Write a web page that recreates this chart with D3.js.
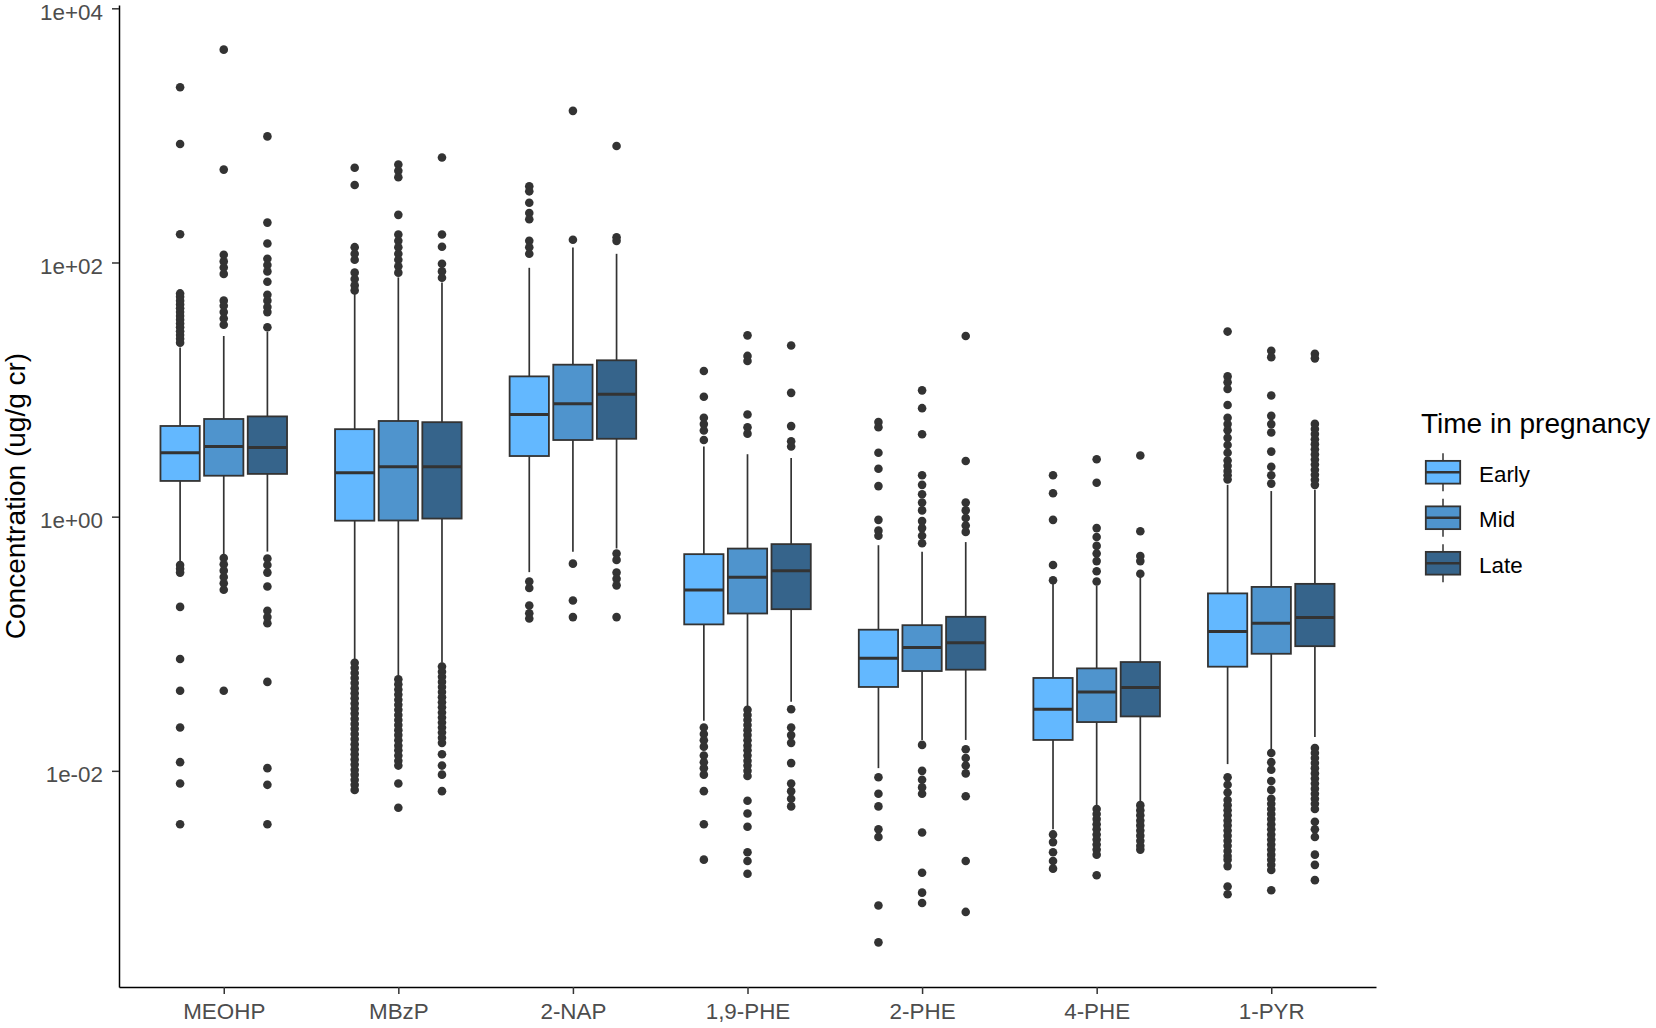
<!DOCTYPE html>
<html>
<head>
<meta charset="utf-8">
<script src="https://cdn.jsdelivr.net/npm/d3@7"></script>
<style>
  body { margin: 0; background: #ffffff; }
  svg { display: block; }
  text { font-family: "Liberation Sans", Arial, sans-serif; }
</style>
</head>
<body>
<svg id="chart" width="1656" height="1028"></svg>
<script>
// ---------------- DATA ----------------
const categories = ["MEOHP", "MBzP", "2-NAP", "1,9-PHE", "2-PHE", "4-PHE", "1-PYR"];
const periods = ["Early", "Mid", "Late"];
const periodColors = ["#63B8FF", "#4F94CD", "#36648B"];
const yTickValues = [1e-2, 1, 1e2, 1e4];
const yTickLabels = ["1e-02", "1e+00", "1e+02", "1e+04"];
const yTitle = "Concentration (ug/g cr)";
const legendTitle = "Time in pregnancy";

// box statistics (ug/g cr), one value per category
const earlyLow    = [0.436, 0.074, 0.366, 0.0248, 0.0105, 0.00347, 0.0113];
const earlyQ1     = [1.91, 0.93, 3.0, 0.142, 0.0457, 0.0175, 0.066];
const earlyMedian = [3.18, 2.22, 6.37, 0.265, 0.077, 0.0305, 0.125];
const earlyQ3     = [5.17, 4.88, 12.7, 0.507, 0.129, 0.0538, 0.249];
const earlyHigh   = [21.4, 57.3, 90.8, 3.57, 0.596, 0.308, 1.78];

const midLow    = [0.5, 0.0562, 0.53, 0.0312, 0.0175, 0.00537, 0.0142];
const midQ1     = [2.10, 0.933, 4.01, 0.173, 0.061, 0.0242, 0.0834];
const midMedian = [3.57, 2.47, 7.74, 0.334, 0.0935, 0.0417, 0.145];
const midQ3     = [5.87, 5.66, 15.7, 0.561, 0.140, 0.064, 0.28];
const midHigh   = [26.4, 76.4, 131.5, 3.10, 0.53, 0.287, 1.59];

const lateLow    = [0.531, 0.0708, 0.562, 0.035, 0.0175, 0.00562, 0.0185];
const lateQ1     = [2.17, 0.966, 4.1, 0.187, 0.0625, 0.0268, 0.0957];
const lateMedian = [3.5, 2.47, 9.2, 0.375, 0.1016, 0.0452, 0.161];
const lateQ3     = [6.15, 5.54, 17.0, 0.608, 0.163, 0.0718, 0.296];
const lateHigh   = [28.6, 69.7, 117, 2.90, 0.631, 0.334, 1.63];

// outliers, one list per category
const earlyOutliers = [
  [2390, 855, 167, 57.1, 53.7, 50.1, 46.8, 43.7, 40.7, 38.0, 35.5, 33.1, 30.9, 28.8, 26.9, 25.1, 23.4,
   0.417, 0.389, 0.363, 0.195, 0.0759, 0.0427, 0.0219, 0.0117, 0.00794, 0.0038],
  [557, 407, 132, 117, 105, 83.2, 74.1, 66.1, 60.3,
   0.0708, 0.0646, 0.0589, 0.0537, 0.049, 0.0447, 0.0407, 0.0372, 0.0339, 0.0309, 0.0282, 0.0257, 0.0234,
   0.0214, 0.0195, 0.0178, 0.0162, 0.0148, 0.0135, 0.0123, 0.0112, 0.0102, 0.00933, 0.00851, 0.00776, 0.00708],
  [398, 363, 295, 245, 219, 148, 132, 117, 0.309, 0.275, 0.2, 0.174, 0.158],
  [14.0, 8.79, 6.0, 5.35, 4.76, 4.01, 0.0219, 0.0195, 0.0174, 0.0155, 0.0132, 0.0117, 0.0105, 0.00933, 0.00692, 0.0038, 0.002],
  [5.56, 5.05, 3.18, 2.38, 1.74, 0.944, 0.776, 0.708, 0.00891, 0.00661, 0.00525, 0.00347, 0.00302, 0.000871, 0.000447],
  [2.12, 1.53, 0.944, 0.416, 0.316, 0.00316, 0.00275, 0.00229, 0.00195, 0.0017],
  [28.6, 12.7, 11.4, 10.1, 7.57, 6.01, 5.35, 4.79, 4.17, 3.66, 3.18, 2.77, 2.51, 2.29, 2.12, 1.96,
   0.00891, 0.00776, 0.00676, 0.00589, 0.00537, 0.0049, 0.00447, 0.00407, 0.00372, 0.00339, 0.00309, 0.00282,
   0.00257, 0.00234, 0.00214, 0.002, 0.00178, 0.00123, 0.00107]
];
const midOutliers = [
  [4730, 538, 115, 102, 91.2, 81.3, 50.1, 45.7, 40.7, 36.3, 32.4, 0.473, 0.422, 0.376, 0.335, 0.299, 0.266, 0.0427],
  [590, 526, 469, 237, 166, 148, 132, 117, 105, 93.3, 83.2,
   0.0525, 0.0479, 0.0437, 0.0398, 0.0363, 0.0331, 0.0302, 0.0275, 0.0251, 0.0229, 0.0209, 0.0191, 0.0174,
   0.0158, 0.0145, 0.0132, 0.012, 0.011, 0.00794, 0.00513],
  [1560, 151, 0.427, 0.219, 0.162],
  [26.7, 18.4, 16.8, 6.37, 5.05, 4.5, 0.0302, 0.0275, 0.0251, 0.0229, 0.0209, 0.0191, 0.0174, 0.0158, 0.0145,
   0.0132, 0.012, 0.011, 0.01, 0.00912, 0.00582, 0.00462, 0.00363, 0.00229, 0.00195, 0.00155],
  [9.86, 7.14, 4.45, 2.12, 1.78, 1.5, 1.29, 1.12, 0.923, 0.813, 0.708, 0.617,
   0.016, 0.01, 0.00851, 0.00741, 0.00661, 0.00327, 0.00158, 0.0011, 0.000912],
  [2.83, 1.85, 0.813, 0.692, 0.589, 0.513, 0.447, 0.372, 0.309,
   0.00501, 0.00457, 0.00417, 0.0038, 0.00347, 0.00316, 0.00288, 0.00263, 0.0024, 0.00219, 0.00151],
  [20.2, 18.0, 8.99, 6.21, 5.35, 4.6, 3.25, 2.47, 2.12, 1.82,
   0.0138, 0.0117, 0.0102, 0.00832, 0.00708, 0.00603, 0.0055, 0.00501, 0.00457, 0.00417, 0.0038, 0.00347,
   0.00316, 0.00288, 0.00263, 0.0024, 0.00219, 0.002, 0.00182, 0.00166, 0.00115]
];
const lateOutliers = [
  [982, 206, 141, 107, 95.5, 85.1, 70.5, 55.8, 50.1, 44.7, 40.7, 30.9,
   0.468, 0.417, 0.363, 0.282, 0.182, 0.162, 0.145, 0.0501, 0.0105, 0.00776, 0.0038],
  [670, 166, 133, 97.7, 85.1, 75.9,
   0.0661, 0.0603, 0.055, 0.0501, 0.0457, 0.0417, 0.038, 0.0347, 0.0316, 0.0288, 0.0263, 0.024, 0.0219, 0.02,
   0.0182, 0.0166, 0.0135, 0.011, 0.00933, 0.00692],
  [826, 158, 148, 0.513, 0.457, 0.363, 0.324, 0.288, 0.162],
  [22.2, 9.42, 5.16, 3.92, 3.57, 0.0305, 0.0219, 0.0191, 0.0166, 0.0115, 0.00794, 0.00692, 0.00603, 0.00525],
  [26.4, 2.74, 1.29, 1.12, 0.977, 0.851, 0.759, 0.0148, 0.0126, 0.011, 0.00955, 0.00631, 0.00195, 0.000776],
  [3.03, 0.767, 0.49, 0.447, 0.355,
   0.00537, 0.0049, 0.00447, 0.00407, 0.00372, 0.00339, 0.00309, 0.00282, 0.00257, 0.0024],
  [19.1, 17.6, 5.37, 4.9, 4.47, 4.07, 3.72, 3.39, 3.09, 2.82, 2.57, 2.34, 2.14, 1.95, 1.78,
   0.0151, 0.0138, 0.0126, 0.0115, 0.0105, 0.00955, 0.00871, 0.00794, 0.00724, 0.00661, 0.00603, 0.0055,
   0.00501, 0.00398, 0.00347, 0.00302, 0.00219, 0.00182, 0.00138]
];

// ---------------- BUILD ----------------
const seriesStats = [
  {low: earlyLow, q1: earlyQ1, med: earlyMedian, q3: earlyQ3, high: earlyHigh, out: earlyOutliers},
  {low: midLow, q1: midQ1, med: midMedian, q3: midQ3, high: midHigh, out: midOutliers},
  {low: lateLow, q1: lateQ1, med: lateMedian, q3: lateQ3, high: lateHigh, out: lateOutliers}
];
const boxes = [];
seriesStats.forEach((s, pi) => {
  categories.forEach((c, ci) => {
    boxes.push({cat: c, period: periods[pi], color: periodColors[pi],
      low: s.low[ci], q1: s.q1[ci], med: s.med[ci], q3: s.q3[ci], high: s.high[ci], out: s.out[ci]});
  });
});

const panel = {left: 119, right: 1376, top: 5, bottom: 987};
const svg = d3.select("#chart");
svg.append("rect").attr("width", 1656).attr("height", 1028).attr("fill", "#fff");

const x = d3.scalePoint().domain(categories).range([panel.left, panel.right]).padding(0.6);
const step = x.step();
const xSub = d3.scaleBand().domain(periods).range([-0.375 * step, 0.375 * step]);
const boxW = xSub.bandwidth() * 0.9;

const allVals = boxes.flatMap(b => [b.low, b.high, ...b.out]);
const ext = d3.extent(allVals).map(Math.log10);
const pad = (ext[1] - ext[0]) * 0.05;
const y = d3.scaleLog().domain([Math.pow(10, ext[0] - pad), Math.pow(10, ext[1] + pad)])
  .range([panel.bottom, panel.top]);

const ink = "#333333";
const plot = svg.append("g");

const g = plot.selectAll("g.box").data(boxes).join("g").attr("class", "box")
  .attr("transform", d => `translate(${x(d.cat) + xSub(d.period) + xSub.bandwidth() / 2},0)`);

// outliers
g.selectAll("circle").data(d => d.out).join("circle")
  .attr("cx", 0).attr("cy", v => y(v)).attr("r", 4.3).attr("fill", ink);

// whiskers
g.append("line").attr("x1", 0).attr("x2", 0).attr("y1", d => y(d.q3)).attr("y2", d => y(d.high))
  .attr("stroke", ink).attr("stroke-width", 1.7);
g.append("line").attr("x1", 0).attr("x2", 0).attr("y1", d => y(d.q1)).attr("y2", d => y(d.low))
  .attr("stroke", ink).attr("stroke-width", 1.7);
// box
g.append("rect").attr("x", -boxW / 2).attr("width", boxW)
  .attr("y", d => y(d.q3)).attr("height", d => y(d.q1) - y(d.q3))
  .attr("fill", d => d.color).attr("stroke", ink).attr("stroke-width", 1.8);
// median
g.append("line").attr("x1", -boxW / 2).attr("x2", boxW / 2)
  .attr("y1", d => y(d.med)).attr("y2", d => y(d.med))
  .attr("stroke", ink).attr("stroke-width", 3);

// ---------------- AXES ----------------
const yAxis = d3.axisLeft(y).tickValues(yTickValues).tickFormat((d, i) => yTickLabels[i])
  .tickSize(7).tickPadding(9).tickSizeOuter(0);
const yg = svg.append("g").attr("transform", `translate(${panel.left},0)`).call(yAxis);

const xAxis = d3.axisBottom(x).tickSize(7).tickPadding(9).tickSizeOuter(0);
const xg = svg.append("g").attr("transform", `translate(0,${panel.bottom})`).call(xAxis);

[yg, xg].forEach(a => {
  a.select(".domain").attr("stroke", "#000").attr("stroke-width", 1.5);
  a.selectAll(".tick line").attr("stroke", ink).attr("stroke-width", 1.5);
  a.selectAll(".tick text").attr("fill", "#4D4D4D")
    .style("font-family", '"Liberation Sans", Arial, sans-serif').style("font-size", "22.4px");
});
yg.selectAll(".tick text").attr("dy", "0.48em");

svg.append("text")
  .attr("transform", `translate(25,${(panel.top + panel.bottom) / 2}) rotate(-90)`)
  .attr("text-anchor", "middle").attr("fill", "#000").style("font-size", "28px")
  .text(yTitle);

// ---------------- LEGEND ----------------
const legend = svg.append("g");
legend.append("text").attr("x", 1421).attr("y", 433).attr("fill", "#000").style("font-size", "28px")
  .text(legendTitle);

const keyCx = 1443, keyW = 43, keyH = 45.5, keyTop0 = 449.5;
const keys = legend.selectAll("g.key").data(periods).join("g").attr("class", "key")
  .attr("transform", (d, i) => `translate(${keyCx},${keyTop0 + i * keyH + keyH / 2})`);
keys.append("line").attr("x1", 0).attr("x2", 0).attr("y1", -keyH * 0.42).attr("y2", keyH * 0.42)
  .attr("stroke", ink).attr("stroke-width", 1.5);
keys.append("rect").attr("x", -keyW * 0.4).attr("width", keyW * 0.8)
  .attr("y", -keyH * 0.25).attr("height", keyH * 0.5)
  .attr("fill", (d, i) => periodColors[i]).attr("stroke", ink).attr("stroke-width", 1.8);
keys.append("line").attr("x1", -keyW * 0.4).attr("x2", keyW * 0.4).attr("y1", 0).attr("y2", 0)
  .attr("stroke", ink).attr("stroke-width", 2.4);
keys.append("text").attr("x", 1479 - keyCx).attr("y", 9.5).attr("fill", "#000")
  .style("font-size", "22.4px").text(d => d);
</script>
</body>
</html>
